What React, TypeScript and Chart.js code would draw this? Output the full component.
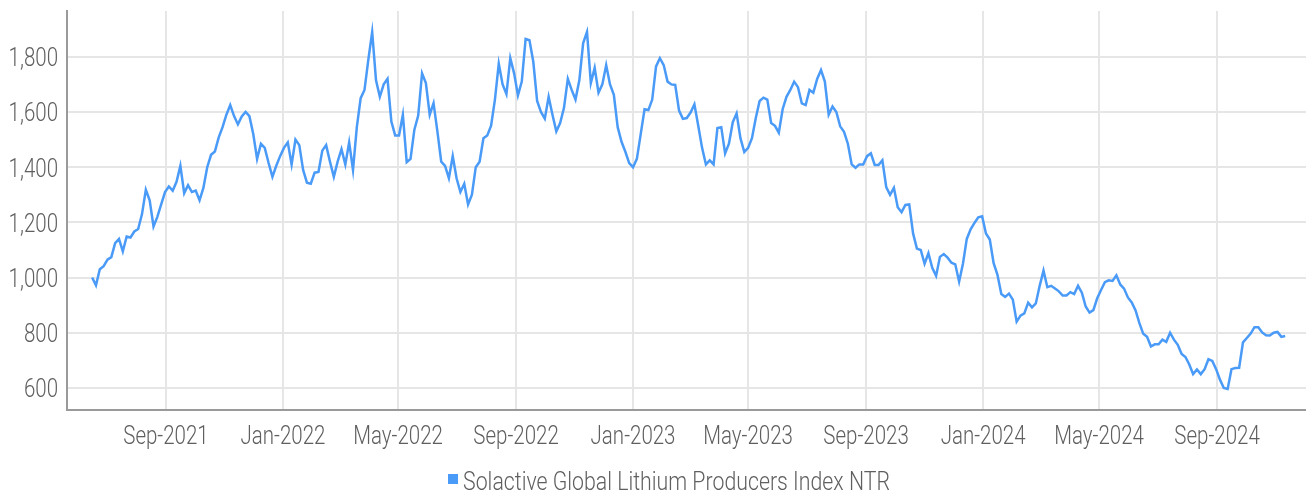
import React, { useEffect, useRef } from 'react';
import { Chart, registerables } from 'chart.js';

Chart.register(...registerables);

const SERIES_LABEL = 'Solactive Global Lithium Producers Index NTR';
const START_DATE = '2021-06-16';
const STEP_DAYS = 4;

const VALUES = [
  1000, 972, 1030, 1041, 1065, 1074, 1125, 1140, 1095, 1149,
  1145, 1167, 1176, 1230, 1318, 1280, 1185, 1220, 1265, 1310,
  1330, 1315, 1347, 1405, 1306, 1335, 1310, 1315, 1280, 1325,
  1400, 1445, 1457, 1508, 1545, 1590, 1625, 1585, 1555, 1584,
  1600, 1585, 1520, 1430, 1485, 1470, 1415, 1365, 1405, 1440,
  1470, 1490, 1410, 1500, 1480, 1390, 1344, 1340, 1380, 1383,
  1460, 1480, 1420, 1365, 1420, 1465, 1410, 1490, 1390, 1545,
  1650, 1680, 1790, 1890, 1715, 1655, 1700, 1720, 1565, 1515,
  1515, 1590, 1418, 1430, 1536, 1587, 1740, 1705, 1590, 1632,
  1530, 1420, 1405, 1360, 1440, 1360, 1310, 1340, 1265, 1300,
  1400, 1420, 1505, 1515, 1550, 1645, 1775, 1700, 1665, 1795,
  1740, 1660, 1710, 1865, 1860, 1782, 1640, 1600, 1576, 1655,
  1590, 1530, 1560, 1615, 1720, 1680, 1645, 1715, 1850, 1890,
  1705, 1760, 1670, 1700, 1770, 1700, 1662, 1545, 1492, 1456,
  1415, 1400, 1430, 1520, 1610, 1607, 1645, 1765, 1795, 1770,
  1710, 1700, 1698, 1605, 1575, 1578, 1598, 1628, 1550, 1470,
  1410, 1425, 1410, 1542, 1545, 1450, 1485, 1563, 1595, 1505,
  1455, 1470, 1505, 1578, 1640, 1652, 1645, 1560, 1550, 1525,
  1610, 1655, 1680, 1710, 1690, 1631, 1625, 1680, 1670, 1720,
  1752, 1710, 1590, 1620, 1600, 1548, 1528, 1485, 1410, 1398,
  1410, 1410, 1440, 1450, 1408, 1408, 1425, 1328, 1300, 1325,
  1255, 1237, 1263, 1265, 1160, 1105, 1100, 1050, 1088, 1035,
  1006, 1075, 1085, 1072, 1054, 1048, 985, 1050, 1140, 1175,
  1198, 1218, 1222, 1160, 1138, 1052, 1010, 940, 930, 942,
  920, 840, 862, 870, 909, 892, 906, 970, 1025, 965,
  970, 960, 950, 935, 935, 947, 940, 970, 945, 895,
  873, 882, 925, 955, 983, 990, 988, 1008, 975, 960,
  928, 910, 881, 835, 796, 785, 750, 758, 758, 775,
  767, 800, 775, 756, 723, 712, 685, 650, 667, 650,
  668, 704, 698, 668, 630, 600, 596, 668, 672, 673,
  765, 781, 797, 820, 820, 801, 791, 790, 800, 803,
  785, 788,
];

const TICK_DATES = [
  '2021-09-01', '2022-01-01', '2022-05-01', '2022-09-01', '2023-01-01',
  '2023-05-01', '2023-09-01', '2024-01-01', '2024-05-01', '2024-09-01',
];
const Y_TICKS = [600, 800, 1000, 1200, 1400, 1600, 1800];
const X_MIN = '2021-05-20T19:00:00Z';
const X_MAX = '2024-12-02T17:00:00Z';
const Y_MIN = 520;
const Y_MAX = 1966;

const MONTHS = ['Jan', 'Feb', 'Mar', 'Apr', 'May', 'Jun', 'Jul', 'Aug', 'Sep', 'Oct', 'Nov', 'Dec'];
const DAY_MS = 86400000;
const BLUE = '#4a9af7';
const TEXT = '#5f5f5f';
const GRID = '#e6e6e6';
const AXIS = '#9a9a9a';
const FONT = 'Roboto, "Liberation Sans", sans-serif';
const FONT_SIZE = 25;
const NARROW = 0.82;
const LEGEND_NARROW = 0.852;

const fmtDate = (v: number) => {
  const d = new Date(Number(v));
  return `${MONTHS[d.getUTCMonth()]}-${d.getUTCFullYear()}`;
};
const fmtNum = (v: number) => Number(v).toLocaleString('en-US');

function drawNarrow(ctx: CanvasRenderingContext2D, text: string, x: number, y: number, sx = NARROW) {
  ctx.save();
  ctx.translate(x, y);
  ctx.scale(sx, 1);
  ctx.fillText(text, 0, 0);
  ctx.restore();
}

const narrowText = {
  id: 'narrowText',
  afterDraw(chart: any) {
    const ctx: CanvasRenderingContext2D = chart.ctx;
    const xs = chart.scales.x;
    const ys = chart.scales.y;
    ctx.save();
    ctx.fillStyle = TEXT;
    ctx.font = `300 ${FONT_SIZE}px ${FONT}`;
    ctx.textBaseline = 'alphabetic';

    ctx.textAlign = 'center';
    xs.ticks.forEach((t: any) => {
      drawNarrow(ctx, fmtDate(t.value), xs.getPixelForValue(t.value), xs.top + 34);
    });

    ctx.textAlign = 'right';
    ys.ticks.forEach((t: any) => {
      drawNarrow(ctx, fmtNum(t.value), ys.right - 9, ys.getPixelForValue(t.value) + 9.5);
    });

    // legend
    const ds = chart.data.datasets[0];
    const textW = ctx.measureText(ds.label).width * LEGEND_NARROW;
    const box = 10;
    const gap = 5;
    const groupW = box + gap + textW;
    const left = (chart.width - groupW) / 2 + 16;
    const baseline = chart.height - 3;
    ctx.fillStyle = ds.borderColor;
    ctx.fillRect(left, baseline - 16, box, box);
    ctx.fillStyle = TEXT;
    ctx.textAlign = 'left';
    drawNarrow(ctx, ds.label, left + box + gap, baseline, LEGEND_NARROW);
    ctx.restore();
  },
};

export default function App() {
  const ref = useRef<HTMLCanvasElement>(null);

  useEffect(() => {
    const startMs = Date.parse(START_DATE);
    const points = VALUES.map((v, i) => ({ x: startMs + i * STEP_DAYS * DAY_MS, y: v }));

    const chart = new Chart(ref.current as HTMLCanvasElement, {
      type: 'line',
      data: {
        datasets: [
          {
            label: SERIES_LABEL,
            data: points,
            borderColor: BLUE,
            backgroundColor: BLUE,
            borderWidth: 2.5,
            pointRadius: 0,
            tension: 0,
            fill: false,
          },
        ],
      },
      options: {
        animation: false,
        responsive: true,
        maintainAspectRatio: false,
        layout: { padding: { left: 0, right: 0, top: 11, bottom: 0 } },
        plugins: {
          tooltip: { enabled: false },
          legend: { display: false },
        },
        scales: {
          x: {
            type: 'linear',
            min: Date.parse(X_MIN),
            max: Date.parse(X_MAX),
            afterBuildTicks: (s: any) => {
              s.ticks = TICK_DATES.map((d) => ({ value: Date.parse(d) }));
            },
            afterFit: (s: any) => {
              s.height = 83;
            },
            ticks: { display: false, autoSkip: false, maxRotation: 0 },
            grid: { color: GRID, lineWidth: 2, drawTicks: false },
            border: { color: AXIS, width: 2 },
          },
          y: {
            min: Y_MIN,
            max: Y_MAX,
            afterBuildTicks: (s: any) => {
              s.ticks = Y_TICKS.map((v) => ({ value: v }));
            },
            afterFit: (s: any) => {
              s.width = 67;
            },
            ticks: { display: false },
            grid: { color: GRID, lineWidth: 2, drawTicks: false },
            border: { color: AXIS, width: 2 },
          },
        },
      },
      plugins: [narrowText],
    } as any);

    return () => chart.destroy();
  }, []);

  return (
    <div style={{ position: 'fixed', left: 0, top: 0, width: 1306, height: 493 }}>
      <canvas ref={ref} />
    </div>
  );
}
